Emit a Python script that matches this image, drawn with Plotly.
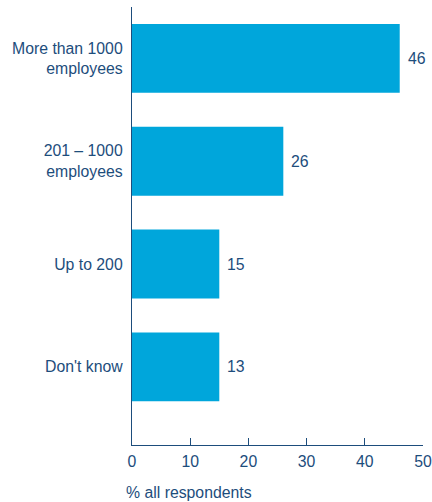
import plotly.graph_objects as go

categories = ["More than 1000<br>employees", "201 – 1000<br>employees", "Up to 200", "Don't know"]
bar_values = [46, 26, 15, 15]
value_labels = ["46", "26", "15", "13"]
x_ticks = [0, 10, 20, 30, 40, 50]

navy = "#1d4d7c"
blue = "#00a6db"
font = "Liberation Sans, Arial, sans-serif"
fs = 15.8

fig = go.Figure()
fig.add_trace(go.Bar(
    x=bar_values, y=categories, orientation="h",
    marker=dict(color=blue, line=dict(width=0)),
    hoverinfo="skip",
))
for v, lab, c in zip(bar_values, value_labels, categories):
    fig.add_annotation(x=v, y=c, text=lab, showarrow=False, xanchor="left",
                       xshift=6, font=dict(size=fs, color=navy, family=font))

fig.add_annotation(x=0, y=0, xref="paper", yref="paper", text="% all respondents",
                   showarrow=False, xanchor="left", yanchor="top", xshift=-8, yshift=-37,
                   font=dict(size=fs, color=navy, family=font))

fig.update_layout(
    width=432, height=502,
    margin=dict(l=132, r=9, t=7, b=57),
    paper_bgcolor="white", plot_bgcolor="white",
    bargap=0.33, showlegend=False,
    font=dict(family=font, size=fs, color=navy),
    xaxis=dict(range=[0, 50], tickvals=x_ticks, ticks="inside", ticklen=7, tickwidth=1.3,
               tickcolor=navy, showline=True, linecolor=navy, linewidth=1.3,
               showgrid=False, zeroline=False, tickfont=dict(size=fs, color=navy),
               ticklabelstandoff=2, automargin=False),
    yaxis=dict(type="category", categoryorder="array", categoryarray=categories,
               range=[3.76, -0.5], showline=True, linecolor=navy, linewidth=1.3,
               showgrid=False, zeroline=False, ticks="", ticklabelstandoff=5,
               tickfont=dict(size=fs, color=navy), automargin=False),
)
fig.write_html("out.html", config={"displayModeBar": False},
               post_script="document.body.style.margin='0';document.body.style.overflow='hidden';")
